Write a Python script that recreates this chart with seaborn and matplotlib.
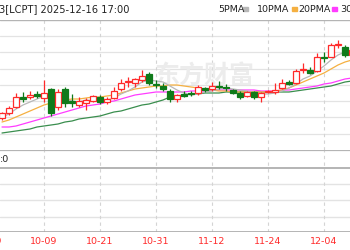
import matplotlib
matplotlib.use("Agg")
import matplotlib.pyplot as plt
import matplotlib.transforms as mtransforms
from matplotlib.patches import Rectangle
import seaborn as sns
import numpy as np
import pandas as pd

# ---------------- data ----------------
dates = ["09-23", "09-24", "09-25", "09-26", "09-29", "09-30", "10-09", "10-10",
         "10-13", "10-14", "10-15", "10-16", "10-17", "10-20", "10-21", "10-22",
         "10-23", "10-24", "10-27", "10-28", "10-29", "10-30", "10-31", "11-03",
         "11-04", "11-05", "11-06", "11-07", "11-10", "11-11", "11-12", "11-13",
         "11-14", "11-17", "11-18", "11-19", "11-20", "11-21", "11-24", "11-25",
         "11-26", "11-27", "11-28", "12-01", "12-02", "12-03", "12-04", "12-05",
         "12-08", "12-09", "12-10"]
open_ = [2.32, 2.37, 2.43, 2.53, 2.53, 2.56, 2.52, 2.61, 2.43, 2.61, 2.49, 2.45,
         2.47, 2.49, 2.53, 2.48, 2.52, 2.61, 2.68, 2.67, 2.70, 2.76, 2.66, 2.64,
         2.59, 2.51, 2.56, 2.57, 2.57, 2.62, 2.61, 2.64, 2.63, 2.60, 2.57, 2.54,
         2.58, 2.53, 2.58, 2.58, 2.62, 2.68, 2.67, 2.80, 2.80, 2.79, 2.93, 2.93,
         3.05, 3.03, 2.95]
high = [2.38, 2.44, 2.57, 2.58, 2.59, 2.59, 2.70, 2.62, 2.61, 2.63, 2.56, 2.53,
        2.52, 2.55, 2.55, 2.53, 2.63, 2.71, 2.73, 2.72, 2.80, 2.78, 2.70, 2.67,
        2.61, 2.56, 2.59, 2.59, 2.65, 2.63, 2.68, 2.69, 2.66, 2.61, 2.59, 2.59,
        2.59, 2.58, 2.60, 2.67, 2.71, 2.70, 2.81, 2.87, 2.83, 2.97, 2.98, 3.07,
        3.10, 3.05, 3.02]
low = [2.30, 2.35, 2.42, 2.48, 2.51, 2.52, 2.48, 2.34, 2.40, 2.43, 2.43, 2.43,
       2.40, 2.48, 2.46, 2.46, 2.51, 2.59, 2.63, 2.63, 2.68, 2.65, 2.62, 2.59,
       2.48, 2.48, 2.53, 2.54, 2.55, 2.58, 2.59, 2.61, 2.59, 2.56, 2.51, 2.53,
       2.51, 2.48, 2.57, 2.56, 2.61, 2.65, 2.66, 2.77, 2.76, 2.78, 2.88, 2.93,
       3.02, 2.93, 2.94]
close = [2.37, 2.42, 2.53, 2.51, 2.55, 2.54, 2.57, 2.37, 2.58, 2.47, 2.47, 2.49,
         2.50, 2.54, 2.48, 2.51, 2.59, 2.67, 2.69, 2.71, 2.74, 2.67, 2.65, 2.61,
         2.51, 2.55, 2.54, 2.56, 2.63, 2.60, 2.64, 2.63, 2.62, 2.57, 2.53, 2.58,
         2.53, 2.57, 2.59, 2.60, 2.67, 2.66, 2.79, 2.81, 2.77, 2.93, 2.92, 3.05,
         3.06, 2.95, 3.00]
ma5 = [2.33, 2.36, 2.41, 2.45, 2.48, 2.51, 2.54, 2.51, 2.52, 2.51, 2.49, 2.48,
       2.50, 2.49, 2.50, 2.50, 2.52, 2.56, 2.59, 2.63, 2.68, 2.70, 2.69, 2.68,
       2.64, 2.60, 2.57, 2.55, 2.56, 2.58, 2.59, 2.61, 2.62, 2.61, 2.60, 2.59,
       2.57, 2.56, 2.56, 2.57, 2.59, 2.62, 2.66, 2.71, 2.74, 2.79, 2.84, 2.90,
       2.95, 2.98, 3.00]
ma10 = [2.28, 2.30, 2.33, 2.36, 2.39, 2.42, 2.45, 2.47, 2.49, 2.50, 2.51, 2.51,
        2.52, 2.53, 2.53, 2.54, 2.55, 2.57, 2.59, 2.61, 2.62, 2.63, 2.64, 2.64,
        2.65, 2.65, 2.64, 2.63, 2.62, 2.61, 2.60, 2.59, 2.59, 2.58, 2.58, 2.58,
        2.58, 2.58, 2.58, 2.59, 2.60, 2.62, 2.65, 2.68, 2.71, 2.74, 2.77, 2.81,
        2.85, 2.88, 2.90]
ma20 = [2.23, 2.23, 2.24, 2.26, 2.28, 2.30, 2.32, 2.34, 2.36, 2.38, 2.40, 2.42,
        2.44, 2.45, 2.46, 2.48, 2.49, 2.51, 2.53, 2.55, 2.56, 2.57, 2.58, 2.58,
        2.58, 2.58, 2.58, 2.59, 2.59, 2.59, 2.60, 2.60, 2.60, 2.60, 2.60, 2.60,
        2.60, 2.59, 2.59, 2.59, 2.60, 2.60, 2.61, 2.62, 2.63, 2.64, 2.66, 2.67,
        2.69, 2.71, 2.72]
ma30 = [2.17, 2.18, 2.19, 2.20, 2.21, 2.23, 2.24, 2.25, 2.26, 2.28, 2.29, 2.31,
        2.32, 2.33, 2.34, 2.36, 2.38, 2.39, 2.41, 2.43, 2.45, 2.46, 2.48, 2.50,
        2.53, 2.54, 2.55, 2.56, 2.56, 2.57, 2.57, 2.57, 2.58, 2.58, 2.58, 2.58,
        2.58, 2.58, 2.58, 2.58, 2.58, 2.58, 2.59, 2.60, 2.61, 2.62, 2.63, 2.64,
        2.66, 2.68, 2.69]
tick_labels = ["09-19", "10-09", "10-21", "10-31", "11-12", "11-24", "12-04"]
header = "3[LCPT] 2025-12-16 17:00"
legend_names = ["5PMA", "10PMA", "20PMA", "30"]

# ---------------- style ----------------
RED = "#ff2a2a"
GREEN = "#0f7a1a"
C5, C10, C20, C30 = "#b8b8b8", "#f5b041", "#ff3cff", "#3a8e4e"
GRID = "#e3e3e3"
VGRID = "#d4d4d4"
BORDER = "#b4b4b4"

sns.set_style("white")
plt.rcParams["font.family"] = ["DejaVu Sans", "Noto Sans CJK SC"]

df = pd.DataFrame({"date": dates, "open": open_, "high": high, "low": low,
                   "close": close, "ma5": ma5, "ma10": ma10, "ma20": ma20,
                   "ma30": ma30})
df["i"] = np.arange(len(df))

W, H = 350, 250
fig = plt.figure(figsize=(3.5, 2.5), dpi=100)
ax = fig.add_axes([0, 1 - 150 / H, 1, 130 / H])
ax2 = fig.add_axes([0, 1 - 232 / H, 1, 82 / H])

xl = (-2 / 7, 348 / 7)
for a in (ax, ax2):
    a.set_xlim(*xl)
    a.set_xticks([])
    a.set_yticks([])
    a.set_facecolor("white")
    for s in a.spines.values():
        s.set_visible(False)

ax.set_ylim(2.00, 3.30)
ax2.set_ylim(0, 82)

# horizontal grid lines
for k in range(1, 8):
    ax.axhline(2.0 + k * 0.1625, color=GRID, lw=0.9, zorder=0)
ax.axhline(3.30, color=BORDER, lw=1.0, zorder=1)
ax2.axhline(82, color=BORDER, lw=1.6, zorder=1)
ax2.axhline(64, color=BORDER, lw=1.4, zorder=1)
for v in (48, 32, 15):
    ax2.axhline(v, color=GRID, lw=1.0, zorder=0)
ax2.axhline(0, color="#a8a8a8", lw=1.2, zorder=1)

# index of each label (09-19 lies two sessions before the first candle)
tick_idx = [-2] + [dates.index(t) for t in tick_labels[1:]]
for t in tick_idx:
    ax.axvline(t, color=VGRID, lw=0.8, ls=(0, (3, 3)), zorder=0)
    ax2.axvline(t, color=VGRID, lw=0.8, ls=(0, (3, 3)), zorder=0)

trans = mtransforms.blended_transform_factory(ax2.transData, ax2.transAxes)
for t, lab in zip(tick_idx, tick_labels):
    ax2.text(t, -10 / 82, lab, transform=trans, ha="center", va="center",
             color=RED, fontsize=6.8, clip_on=False)

# watermark
ax.text(29.0, 2.74, "东方财富", color="#ececec", fontsize=18,
        family=["Noto Sans CJK SC"], ha="center", va="center", zorder=0.5,
        fontweight="bold")

# moving averages
for col, c in (("ma30", C30), ("ma20", C20), ("ma10", C10), ("ma5", C5)):
    sns.lineplot(data=df, x="i", y=col, ax=ax, color=c, lw=0.9, zorder=2,
                 legend=False)
ax.set_xlabel("")
ax.set_ylabel("")
ax.set_xlim(*xl)
ax.set_ylim(2.00, 3.30)

# candles
bw = 0.72
for _, r in df.iterrows():
    isup = r["close"] >= r["open"]
    col = RED if isup else GREEN
    ax.vlines(r["i"], r["low"], r["high"], color=col, lw=0.9, zorder=3)
    lo = min(r["open"], r["close"])
    h = max(abs(r["close"] - r["open"]), 0.004)
    ax.bar(r["i"], h, bottom=lo, width=bw,
           facecolor="white" if isup else GREEN, edgecolor=col, lw=0.9,
           zorder=4)

# header and legend
fig.text(-1 / W, 1 - 9 / H, header, fontsize=7.1, va="center", ha="left",
         color="#222222")
leg_x = [218, 257, 298, 340]
mark_x = [243, 292, 332]
for x, name in zip(leg_x, legend_names):
    fig.text(x / W, 1 - 9 / H, name, fontsize=6.8, va="center", ha="left",
             color="#222222")
for x, c in zip(mark_x, (C5, C10, C20)):
    fig.patches.append(Rectangle((x / W, 1 - 10.5 / H), 5 / W, 3 / H,
                                 transform=fig.transFigure, color=c))

fig.text(0 / W, 1 - 160 / H, ":0", fontsize=6.8, va="center", ha="left",
         color="#222222")

fig.savefig("out.png", dpi=100, facecolor="white")
